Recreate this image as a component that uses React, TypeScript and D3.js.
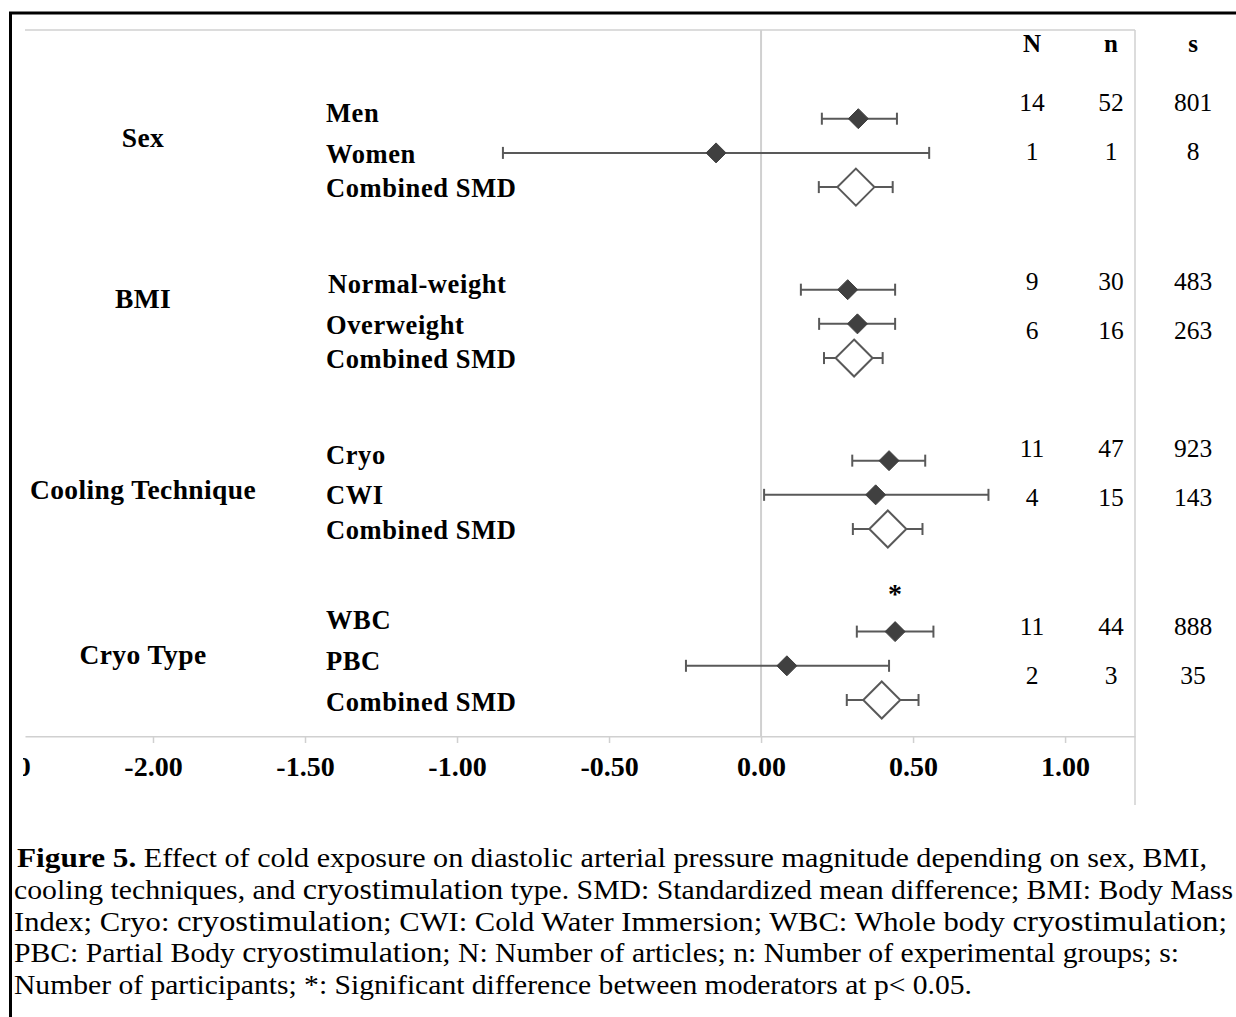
import React, { useEffect, useRef } from "react";
import * as d3 from "d3";

// moderators and the rows under each one
const groups = ["Sex", "BMI", "Cooling Technique", "Cryo Type"];
const rowLabels = [
  "Men", "Women", "Combined SMD",
  "Normal-weight", "Overweight", "Combined SMD",
  "Cryo", "CWI", "Combined SMD",
  "WBC", "PBC", "Combined SMD",
];
const rowGroup = [0, 0, 0, 1, 1, 1, 2, 2, 2, 3, 3, 3];
const isCombined = [false, false, true, false, false, true, false, false, true, false, false, true];

// standardized mean difference and 95% CI
const smd = [0.32, -0.148, 0.312, 0.285, 0.317, 0.306, 0.421, 0.377, 0.417, 0.441, 0.085, 0.397];
const ciLow = [0.2, -0.849, 0.19, 0.131, 0.191, 0.207, 0.3, 0.01, 0.302, 0.315, -0.247, 0.282];
const ciHigh = [0.447, 0.553, 0.433, 0.441, 0.441, 0.4, 0.54, 0.748, 0.531, 0.567, 0.421, 0.518];
const significantRows = ["WBC"];

// table on the right (one line per non-combined row)
const tableHeads = ["N", "n", "s"];
const articles = [14, 1, 9, 6, 11, 4, 11, 2];
const expGroups = [52, 1, 30, 16, 47, 15, 44, 3];
const participants = [801, 8, 483, 263, 923, 143, 888, 35];

const xTicks = [-2.5, -2, -1.5, -1, -0.5, 0, 0.5, 1];
const xDomain = [-2.421, 1.23];

const captionLines = [
  [["b", "Figure 5."], ["t", " Effect of cold exposure on diastolic arterial pressure magnitude depending on sex, BMI,"]],
  [["t", "cooling techniques, and "], ["c", "cryostimulation"], ["t", " type. SMD: Standardized mean difference; BMI: Body Mass"]],
  [["t", "Index; Cryo: "], ["c", "cryostimulation"], ["t", "; CWI: Cold Water Immersion; WBC: Whole body "], ["c", "cryostimulation"], ["t", ";"]],
  [["t", "PBC: Partial Body "], ["c", "cryostimulation"], ["t", "; N: Number of articles; n: Number of experimental groups; s:"]],
  [["t", "Number of participants; *: Significant difference between moderators at p< 0.05."]],
];

const W = 1236, H = 1017;
const FONT = "'Liberation Serif', 'Times New Roman', serif";

function App() {
  const ref = useRef<SVGSVGElement>(null);

  useEffect(() => {
    const svg = d3.select(ref.current);
    svg.selectAll("*").remove();

    const left = 25, right = 1135, top = 30, axisY = 736;
    const x = d3.scaleLinear().domain(xDomain).range([left, right]);
    const slot = rowGroup.map((g, i) => g * 5 + (i - g * 3));
    const y = d3.scaleLinear().domain([0, 17]).range([118.7, 700]);

    // outer figure border
    svg.append("line").attr("x1", 10.5).attr("x2", 10.5).attr("y1", 12).attr("y2", H)
      .attr("stroke", "#000").attr("stroke-width", 3);
    svg.append("line").attr("x1", 9).attr("x2", W).attr("y1", 13).attr("y2", 13)
      .attr("stroke", "#000").attr("stroke-width", 3);

    // plot frame
    const grey = "#d0d0d0";
    svg.append("line").attr("x1", left).attr("x2", right).attr("y1", top).attr("y2", top)
      .attr("stroke", grey).attr("stroke-width", 1.5);
    svg.append("line").attr("x1", right).attr("x2", right).attr("y1", top).attr("y2", 805)
      .attr("stroke", grey).attr("stroke-width", 1.5);
    svg.append("line").attr("x1", x(0)).attr("x2", x(0)).attr("y1", top).attr("y2", axisY)
      .attr("stroke", grey).attr("stroke-width", 2);

    // x axis (the -2.50 label is cut by the frame, as in the source)
    svg.append("clipPath").attr("id", "axclip").append("rect")
      .attr("x", 23).attr("y", 0).attr("width", W).attr("height", H);
    const ax = svg.append("g")
      .attr("clip-path", "url(#axclip)")
      .attr("transform", `translate(0,${axisY})`)
      .call(d3.axisBottom(x).tickValues(xTicks).tickSize(7).tickSizeOuter(0)
        .tickFormat((d) => (+d).toFixed(2)));
    ax.select(".domain").attr("stroke", grey).attr("stroke-width", 2);
    ax.selectAll(".tick line").attr("stroke", grey).attr("stroke-width", 1.5);
    ax.selectAll(".tick text")
      .attr("y", 31).attr("dy", "0.33em")
      .attr("fill", "#000")
      .attr("font-family", FONT).attr("font-size", 28).attr("font-weight", "bold");

    // CI whiskers
    const rows = rowLabels.map((label, i) => ({
      label, i, y: y(slot[i]), est: smd[i], lo: ciLow[i], hi: ciHigh[i], comb: isCombined[i],
    }));
    const ink = "#595959";
    svg.selectAll(".ci").data(rows).join("line").attr("class", "ci")
      .attr("x1", (d) => x(d.lo)).attr("x2", (d) => x(d.hi))
      .attr("y1", (d) => d.y).attr("y2", (d) => d.y)
      .attr("stroke", ink).attr("stroke-width", 2);
    const caps = rows.flatMap((d) => [{ v: d.lo, y: d.y }, { v: d.hi, y: d.y }]);
    svg.selectAll(".cap").data(caps).join("line").attr("class", "cap")
      .attr("x1", (d) => x(d.v)).attr("x2", (d) => x(d.v))
      .attr("y1", (d) => d.y - 6).attr("y2", (d) => d.y + 6)
      .attr("stroke", ink).attr("stroke-width", 2);

    // diamonds
    const diamond = (cx: number, cy: number, r: number) =>
      `M${cx},${cy - r}L${cx + r},${cy}L${cx},${cy + r}L${cx - r},${cy}Z`;
    svg.selectAll(".mk").data(rows).join("path").attr("class", "mk")
      .attr("d", (d) => diamond(x(d.est), d.y, d.comb ? 18.5 : 10))
      .attr("fill", (d) => (d.comb ? "#fff" : "#404040"))
      .attr("stroke", (d) => (d.comb ? ink : "#404040"))
      .attr("stroke-width", (d) => (d.comb ? 2 : 1));

    // significance mark
    svg.selectAll(".sig").data(rows.filter((d) => significantRows.includes(d.label)))
      .join("text").attr("class", "sig")
      .attr("x", (d) => x(d.est)).attr("y", (d) => d.y - 29)
      .attr("text-anchor", "middle")
      .attr("font-family", FONT).attr("font-size", 28).attr("font-weight", "bold")
      .text("*");

    // row labels (text boxes sit slightly off the marker rows)
    const labelNudge = [-5, 1, 1, -5, 1, 1, -5, 0, 1, -11, -5, 2];
    svg.selectAll(".rl").data(rows).join("text").attr("class", "rl")
      .attr("x", (d) => (d.label === "Normal-weight" ? 328 : 326))
      .attr("y", (d) => d.y + labelNudge[d.i]).attr("dy", "0.33em")
      .attr("font-family", FONT).attr("font-size", 26.5).attr("font-weight", "bold")
      .attr("letter-spacing", 0.6)
      .text((d) => d.label);

    // moderator labels
    const groupY = [138, 299, 490, 655];
    svg.selectAll(".gl").data(groups).join("text").attr("class", "gl")
      .attr("x", 143).attr("y", (d, i) => groupY[i]).attr("dy", "0.33em")
      .attr("text-anchor", "middle")
      .attr("font-family", FONT).attr("font-size", 27.5).attr("font-weight", "bold")
      .attr("letter-spacing", 0.4)
      .text((d) => d);

    // right-hand table
    const colX = [1032, 1111, 1193];
    svg.selectAll(".th").data(tableHeads).join("text").attr("class", "th")
      .attr("x", (d, i) => colX[i]).attr("y", 44).attr("dy", "0.33em")
      .attr("text-anchor", "middle")
      .attr("font-family", FONT).attr("font-size", 25).attr("font-weight", "bold")
      .text((d) => d);
    const tableBase = [103, 282, 449, 627];
    const cells = articles.flatMap((a, j) => {
      const ty = tableBase[Math.floor(j / 2)] + (j % 2) * 49;
      return [a, expGroups[j], participants[j]].map((v, c) => ({ v, c, ty }));
    });
    svg.selectAll(".td").data(cells).join("text").attr("class", "td")
      .attr("x", (d) => colX[d.c]).attr("y", (d) => d.ty).attr("dy", "0.33em")
      .attr("text-anchor", "middle")
      .attr("font-family", FONT).attr("font-size", 25.5)
      .text((d) => d.v);

    // caption, each line stretched to its width in the source
    const capStart = [17, 14, 14, 14, 14];
    const capEnd = [1207, 1233, 1227, 1179, 972];
    const cap = svg.selectAll(".cl").data(captionLines).join("text").attr("class", "cl")
      .attr("x", (d, i) => capStart[i]).attr("y", (d, i) => 867 + i * 31.8)
      .attr("textLength", (d, i) => capEnd[i] - capStart[i])
      .attr("lengthAdjust", "spacingAndGlyphs")
      .attr("font-family", FONT).attr("font-size", 27);
    cap.selectAll("tspan").data((d) => d).join("tspan")
      .attr("font-weight", (d) => (d[0] === "b" ? "bold" : "normal"))
      .attr("font-size", (d) => (d[0] === "c" ? 29 : d[0] === "b" ? 28 : 27))
      .text((d) => d[1]);
  }, []);

  return (
    <svg ref={ref} width={W} height={H}
      style={{ position: "absolute", left: 0, top: 0, background: "#fff" }} />
  );
}

export default App;
